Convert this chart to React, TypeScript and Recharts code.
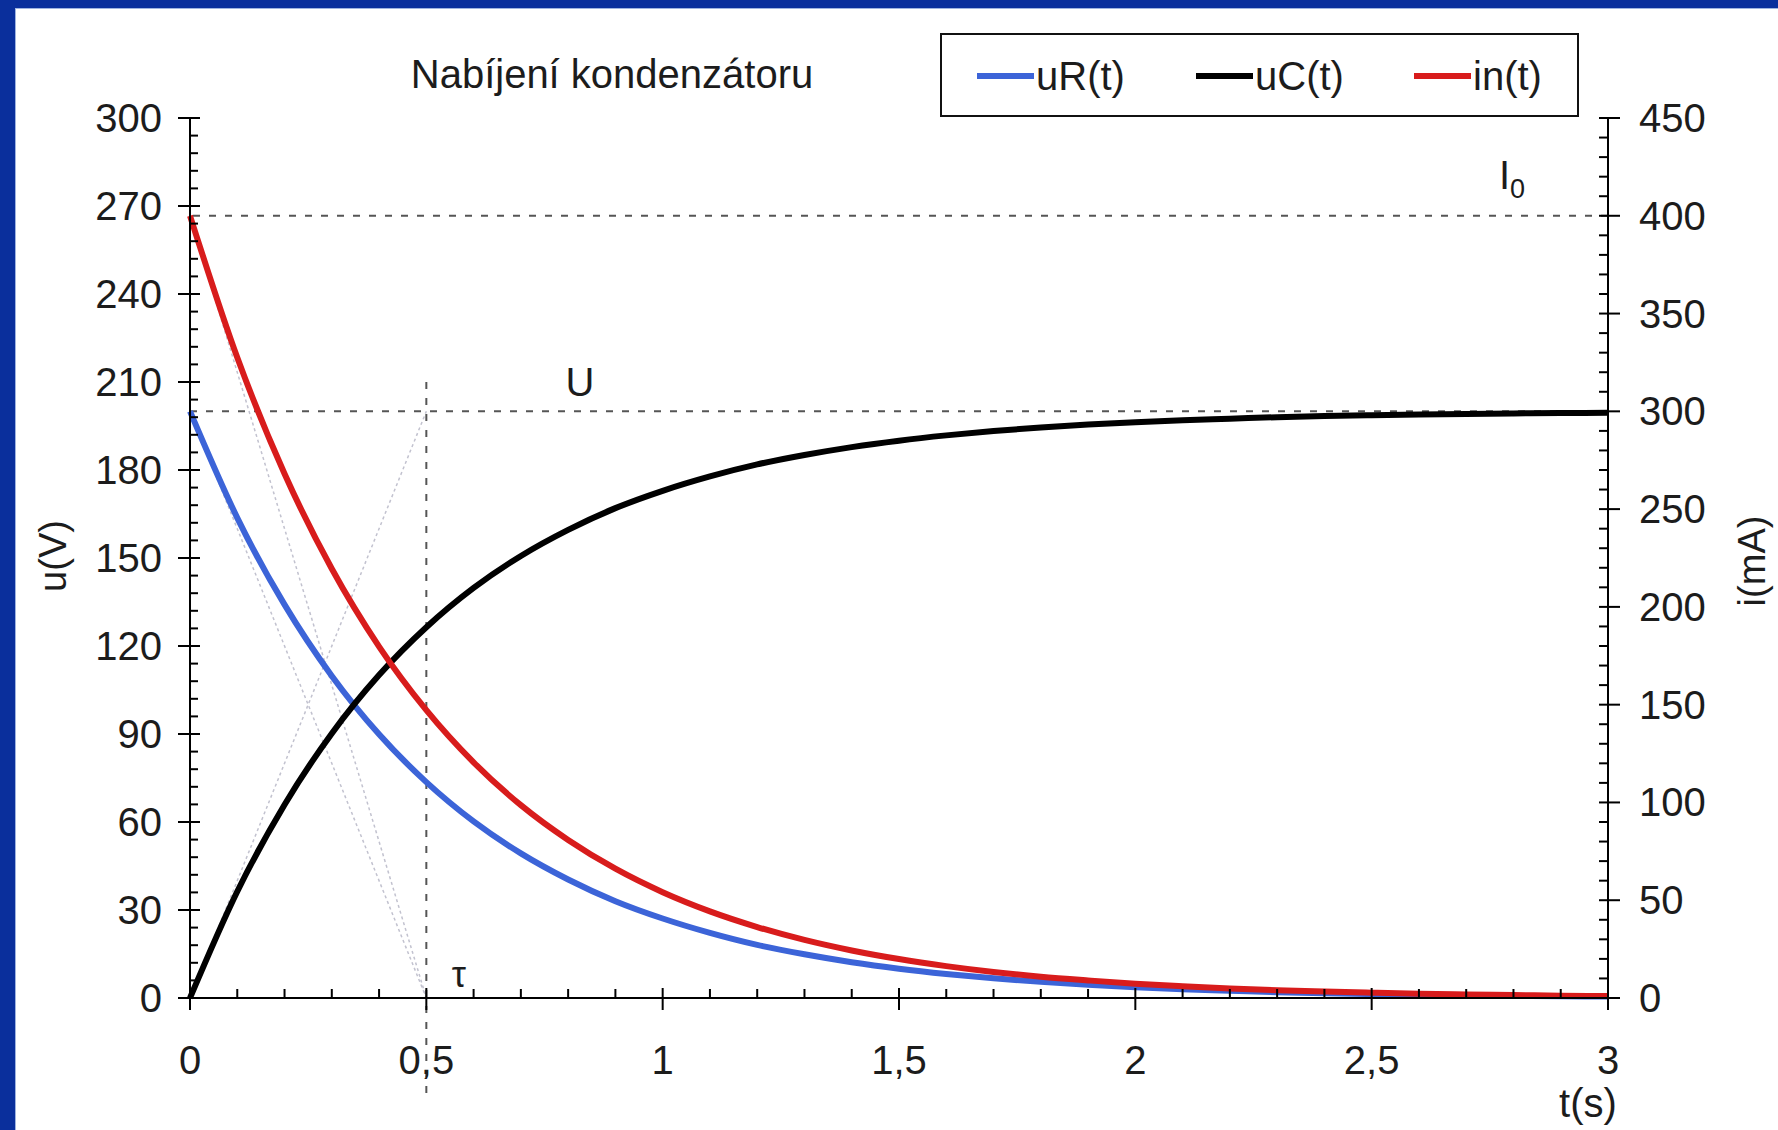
import React from 'react';
import { ComposedChart, Line, XAxis, YAxis, ReferenceLine, ReferenceDot } from 'recharts';

// ---- data ----
const times = [0, 0.1, 0.2, 0.3, 0.4, 0.5, 0.6, 0.7, 0.8, 0.9, 1.0, 1.1, 1.2, 1.3, 1.4, 1.5, 1.6, 1.7, 1.8, 1.9, 2.0, 2.1, 2.2, 2.3, 2.4, 2.5, 2.6, 2.7, 2.8, 2.9, 3.0];
const uRValues = [200, 163.7, 134.1, 109.8, 89.9, 73.6, 60.2, 49.3, 40.4, 33.0, 27.1, 22.2, 18.1, 14.9, 12.2, 10.0, 8.2, 6.7, 5.5, 4.5, 3.7, 3.0, 2.5, 2.0, 1.6, 1.3, 1.1, 0.9, 0.7, 0.6, 0.5];
const uCValues = [0, 36.3, 65.9, 90.2, 110.1, 126.4, 139.8, 150.7, 159.6, 167.0, 172.9, 177.8, 181.9, 185.1, 187.8, 190.0, 191.8, 193.3, 194.5, 195.5, 196.3, 197.0, 197.5, 198.0, 198.4, 198.7, 198.9, 199.1, 199.3, 199.4, 199.5];
const inValues = [400, 327.5, 268.1, 219.5, 179.7, 147.2, 120.5, 98.6, 80.8, 66.1, 54.1, 44.3, 36.3, 29.7, 24.3, 19.9, 16.3, 13.3, 10.9, 9.0, 7.3, 6.0, 4.9, 4.0, 3.3, 2.7, 2.2, 1.8, 1.5, 1.2, 1.0];

const seriesNames = ['uR(t)', 'uC(t)', 'in(t)'];
const seriesColors = ['#3c64d8', '#000000', '#d81c1c'];

const leftMajorTicks = [0, 30, 60, 90, 120, 150, 180, 210, 240, 270, 300];
const rightMajorTicks = [0, 50, 100, 150, 200, 250, 300, 350, 400, 450];
const xMajorTicks = [0, 0.5, 1, 1.5, 2, 2.5, 3];
const xTickLabels = ['0', '0,5', '1', '1,5', '2', '2,5', '3'];

const title = 'Nabíjení kondenzátoru';
const leftAxisTitle = 'u(V)';
const rightAxisTitle = 'i(mA)';
const xAxisTitle = 't(s)';

const supplyVoltage = 200; // U
const initialCurrent = 400; // I0 (mA)
const tau = 0.5;

// tangent guide lines (t, value)
const tangentLeft = [
  { from: [0, 200], to: [0.5, 0] },
  { from: [0, 0], to: [0.5, 200] },
];
const tangentRight = [{ from: [0, 400], to: [0.5, 0] }];

// minor tick sets
const leftTicks = Array.from({ length: 51 }, (_, i) => i * 6);
const rightTicks = Array.from({ length: 46 }, (_, i) => i * 10);
const xTicks = Array.from({ length: 31 }, (_, i) => Math.round(i) / 10);

const data = times.map((t, i) => ({ t, uR: uRValues[i], uC: uCValues[i], iN: inValues[i] }));

const FONT = '"Liberation Sans", Arial, sans-serif';
const TEXT = '#1c1c1c';

const LeftTick = (props: any) => {
  const { x, y, payload } = props;
  const v = payload.value;
  const major = leftMajorTicks.includes(v);
  return (
    <g>
      {major ? (
        <line x1={x - 12} x2={x + 10} y1={y} y2={y} stroke="#000" strokeWidth={2} />
      ) : (
        <line x1={x} x2={x + 8} y1={y} y2={y} stroke="#000" strokeWidth={2} />
      )}
      {major && (
        <text x={x - 28} y={y} textAnchor="end" dominantBaseline="central" fontSize={40} fontFamily={FONT} fill={TEXT}>
          {v}
        </text>
      )}
    </g>
  );
};

const RightTick = (props: any) => {
  const { x, y, payload } = props;
  const v = payload.value;
  const major = rightMajorTicks.includes(v);
  return (
    <g>
      {major ? (
        <line x1={x - 9} x2={x + 12} y1={y} y2={y} stroke="#000" strokeWidth={2} />
      ) : (
        <line x1={x - 9} x2={x} y1={y} y2={y} stroke="#000" strokeWidth={2} />
      )}
      {major && (
        <text x={x + 31} y={y} textAnchor="start" dominantBaseline="central" fontSize={40} fontFamily={FONT} fill={TEXT}>
          {v}
        </text>
      )}
    </g>
  );
};

const BottomTick = (props: any) => {
  const { x, y, payload } = props;
  const v = payload.value;
  const idx = xMajorTicks.findIndex((m) => Math.abs(m - v) < 1e-6);
  const major = idx >= 0;
  return (
    <g>
      {major ? (
        <line x1={x} x2={x} y1={y - 10} y2={y + 12} stroke="#000" strokeWidth={2} />
      ) : (
        <line x1={x} x2={x} y1={y - 9} y2={y} stroke="#000" strokeWidth={2} />
      )}
      {major && (
        <text x={x} y={y + 62} textAnchor="middle" dominantBaseline="central" fontSize={40} fontFamily={FONT} fill={TEXT}>
          {xTickLabels[idx]}
        </text>
      )}
    </g>
  );
};

const DASH = { stroke: '#555', strokeWidth: 2, strokeDasharray: '7 9' };
const GUIDE = { stroke: '#c2c2cf', strokeWidth: 1.5, strokeDasharray: '3 3' };

export default function App() {
  return (
    <div style={{ position: 'absolute', left: 0, top: 0, width: 1778, height: 1130, background: '#0a2f9c', overflow: 'hidden' }}>
      <div style={{ position: 'absolute', left: 15, top: 8, right: 0, bottom: 0, background: '#fff', borderTop: '1px solid #9fb4e0', borderLeft: '1px solid #9fb4e0' }} />
      <div style={{ position: 'absolute', left: 0, top: 0 }}>
        <ComposedChart width={1778} height={1130} data={data} margin={{ top: 118, right: 0, bottom: 0, left: 0 }}>
          <XAxis
            dataKey="t"
            type="number"
            domain={[0, 3]}
            ticks={xTicks}
            interval={0}
            tickSize={0}
            tickMargin={0}
            tickLine={false}
            height={132}
            axisLine={{ stroke: '#000', strokeWidth: 2 }}
            tick={<BottomTick />}
          />
          <YAxis
            yAxisId="left"
            orientation="left"
            type="number"
            domain={[0, 300]}
            ticks={leftTicks}
            interval={0}
            tickSize={0}
            tickMargin={0}
            tickLine={false}
            width={190}
            axisLine={{ stroke: '#000', strokeWidth: 2 }}
            tick={<LeftTick />}
          />
          <YAxis
            yAxisId="right"
            orientation="right"
            type="number"
            domain={[0, 450]}
            ticks={rightTicks}
            interval={0}
            tickSize={0}
            tickMargin={0}
            tickLine={false}
            width={170}
            axisLine={{ stroke: '#000', strokeWidth: 2 }}
            tick={<RightTick />}
          />

          {tangentLeft.map((s, i) => (
            <ReferenceLine
              key={'tl' + i}
              yAxisId="left"
              segment={[{ x: s.from[0], y: s.from[1] }, { x: s.to[0], y: s.to[1] }]}
              {...GUIDE}
            />
          ))}
          {tangentRight.map((s, i) => (
            <ReferenceLine
              key={'tr' + i}
              yAxisId="right"
              segment={[{ x: s.from[0], y: s.from[1] }, { x: s.to[0], y: s.to[1] }]}
              {...GUIDE}
            />
          ))}

          <ReferenceLine yAxisId="right" y={initialCurrent} {...DASH} />
          <ReferenceLine yAxisId="left" y={supplyVoltage} {...DASH} />
          <ReferenceLine
            yAxisId="left"
            ifOverflow="visible"
            segment={[{ x: tau, y: 210 }, { x: tau, y: -33 }]}
            {...DASH}
          />

          <Line yAxisId="left" type="monotone" dataKey="uR" name={seriesNames[0]} stroke={seriesColors[0]} strokeWidth={6} dot={false} isAnimationActive={false} />
          <Line yAxisId="left" type="monotone" dataKey="uC" name={seriesNames[1]} stroke={seriesColors[1]} strokeWidth={6} dot={false} isAnimationActive={false} />
          <Line yAxisId="right" type="monotone" dataKey="iN" name={seriesNames[2]} stroke={seriesColors[2]} strokeWidth={6} dot={false} isAnimationActive={false} />

          <ReferenceDot
            yAxisId="left"
            x={0.825}
            y={210}
            r={0}
            ifOverflow="visible"
            shape={(p: any) => (
              <text x={p.cx} y={p.cy} textAnchor="middle" dominantBaseline="central" fontSize={40} fontFamily={FONT} fill={TEXT}>
                U
              </text>
            )}
          />
          <ReferenceDot
            yAxisId="left"
            x={0.569}
            y={8}
            r={0}
            ifOverflow="visible"
            shape={(p: any) => (
              <text x={p.cx} y={p.cy} textAnchor="middle" dominantBaseline="central" fontSize={36} fontFamily={FONT} fill={TEXT}>
                τ
              </text>
            )}
          />
          <ReferenceDot
            yAxisId="left"
            x={2.797}
            y={280.5}
            r={0}
            ifOverflow="visible"
            shape={(p: any) => (
              <text x={p.cx} y={p.cy} textAnchor="middle" dominantBaseline="central" fontSize={40} fontFamily={FONT} fill={TEXT}>
                I
                <tspan fontSize={27} dy={14}>0</tspan>
              </text>
            )}
          />
        </ComposedChart>
      </div>

      <svg width={1778} height={1130} style={{ position: 'absolute', left: 0, top: 0, pointerEvents: 'none' }}>
        <text x={612} y={74} textAnchor="middle" dominantBaseline="central" fontSize={40} fontFamily={FONT} fill={TEXT}>
          {title}
        </text>
        <text transform="translate(53,556) rotate(-90)" textAnchor="middle" dominantBaseline="central" fontSize={38} fontFamily={FONT} fill={TEXT}>
          {leftAxisTitle}
        </text>
        <text transform="translate(1752,561) rotate(-90)" textAnchor="middle" dominantBaseline="central" fontSize={38} fontFamily={FONT} fill={TEXT}>
          {rightAxisTitle}
        </text>
        <text x={1588} y={1103} textAnchor="middle" dominantBaseline="central" fontSize={40} fontFamily={FONT} fill={TEXT}>
          {xAxisTitle}
        </text>

        <rect x={941} y={34} width={637} height={82} fill="#fff" stroke="#111" strokeWidth={2} />
        {seriesNames.map((name, i) => {
          const lx = [977, 1196, 1414][i];
          return (
            <g key={name}>
              <line x1={lx} x2={lx + 57} y1={76} y2={76} stroke={seriesColors[i]} strokeWidth={6} />
              <text x={lx + 59} y={76} dominantBaseline="central" fontSize={40} fontFamily={FONT} fill={TEXT}>
                {name}
              </text>
            </g>
          );
        })}
      </svg>
    </div>
  );
}
